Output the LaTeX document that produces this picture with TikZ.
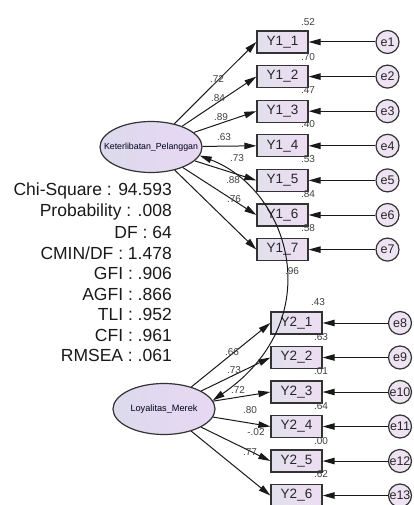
\documentclass[tikz,border=0pt]{standalone}
\usepackage{fontspec}
\setmainfont{Liberation Sans}
\usetikzlibrary{arrows.meta,shapes.geometric}
\definecolor{boxL}{HTML}{E2E0EC}
\definecolor{boxR}{HTML}{EDDDF3}
\definecolor{latL}{HTML}{DCDAEC}
\definecolor{latR}{HTML}{E8D8F3}
\definecolor{errF}{HTML}{EEE3F2}
\definecolor{edge}{HTML}{333333}
\begin{document}
\begin{tikzpicture}[x=1pt,y=-1pt,
 obs/.style={draw=edge, line width=1.3pt, minimum width=51pt, minimum height=22pt, inner sep=0pt, left color=boxL, right color=boxR, font=\fontsize{13.5}{13.5}\selectfont, text=black!85},
 err/.style={circle, draw=edge, line width=1.2pt, minimum size=23pt, inner sep=0pt, fill=errF, font=\fontsize{12.5}{12.5}\selectfont, text=black!85},
 lat/.style={ellipse, draw=edge, line width=1.2pt, minimum width=102pt, minimum height=51pt, inner sep=0pt, left color=latL, right color=latR},
 arr/.style={-{Triangle[length=12pt,width=6.5pt]}, line width=1pt, draw=black!90},
 dbl/.style={{Triangle[length=12pt,width=6.5pt]}-{Triangle[length=12pt,width=6.5pt]}, line width=1pt, draw=black!90},
 lab/.style={font=\fontsize{10}{10}\selectfont, text=black!75, inner sep=0pt},
 stat/.style={font=\fontsize{17.5}{17.5}\selectfont, anchor=east, inner sep=0pt, text=black!90},
]
\useasboundingbox (0,0) rectangle (414,505);

% latent variables
\node[lat, label={[font=\fontsize{8.8}{8.8}\selectfont, text=black!90!blue]center:Keterlibatan\_Pelanggan}] (K) at (151,147) {};
\node[lat, label={[font=\fontsize{9.2}{9.2}\selectfont, text=black!90!blue]center:Loyalitas\_Merek}] (L) at (164,409) {};

% Y1 indicators
\foreach \i/\y/\e in {1/42/1,2/76.6/2,3/111.2/3,4/145.8/4,5/180.4/5,6/215/6,7/249.6/7}{
  \node[obs] (Y1\i) at (282.5,\y) {Y1\_\i};
  \node[err] (e\e) at (387.5,\y) {e\e};
  \draw[arr] (e\e) -- (Y1\i);
  \draw[arr] (K) -- (Y1\i.west);
}
% Y2 indicators
\foreach \i/\y/\e in {1/323/8,2/357.5/9,3/392/10,4/426.5/11,5/461/12,6/495.5/13}{
  \node[obs] (Y2\i) at (296.5,\y) {Y2\_\i};
  \node[err] (e\e) at (400,\y) {e\e};
  \draw[arr] (e\e) -- (Y2\i);
  \draw[arr] (L) -- (Y2\i.west);
}

% covariance
\draw[dbl] (K.-10) .. controls (290,190) and (330,320) .. (L.10);
\node[lab] (c96) at (292,271) {.96};

% loadings Y1
\node[lab] (l1) at (217,79) {.72};
\node[lab] (l2) at (218,98) {.84};
\node[lab] (l3) at (221,117) {.89};
\node[lab] (l4) at (224,137) {.63};
\node[lab] (l5) at (237,158) {.73};
\node[lab] (l6) at (233,180) {.88};
\node[lab] (l7) at (234,199) {.76};
% loadings Y2
\node[lab] (m1) at (232,352) {.66};
\node[lab] (m2) at (234,370) {.73};
\node[lab] (m3) at (238,390) {.72};
\node[lab] (m4) at (250,410) {.80};
\node[lab] (m5) at (256,432) {-.02};
\node[lab] (m6) at (250,452) {.77};

% squared multiple correlations Y1
\node[lab] (r1) at (308,22) {.52};
\node[lab] (r2) at (308,57) {.70};
\node[lab] (r3) at (308,90) {.47};
\node[lab] (r4) at (308,124) {.40};
\node[lab] (r5) at (308,159) {.53};
\node[lab] (r6) at (308,194) {.84};
\node[lab] (r7) at (308,228) {.58};
% Y2
\node[lab] (s1) at (318,302) {.43};
\node[lab] (s2) at (321,337) {.63};
\node[lab] (s3) at (321,371) {.01};
\node[lab] (s4) at (321,406) {.64};
\node[lab] (s5) at (321,441) {.00};
\node[lab] (s6) at (321,474) {.62};

% fit statistics
\node[stat] (f1) at (172,191) {Chi-Square : 94.593};
\node[stat] (f2) at (172,211.6) {Probability : .008};
\node[stat] (f3) at (172,232.2) {DF : 64};
\node[stat] (f4) at (172,252.8) {CMIN/DF : 1.478};
\node[stat] (f5) at (172,273.4) {GFI : .906};
\node[stat] (f6) at (172,294) {AGFI : .866};
\node[stat] (f7) at (172,314.6) {TLI : .952};
\node[stat] (f8) at (172,335.2) {CFI : .961};
\node[stat] (f9) at (172,355.8) {RMSEA : .061};
\end{tikzpicture}
\end{document}
